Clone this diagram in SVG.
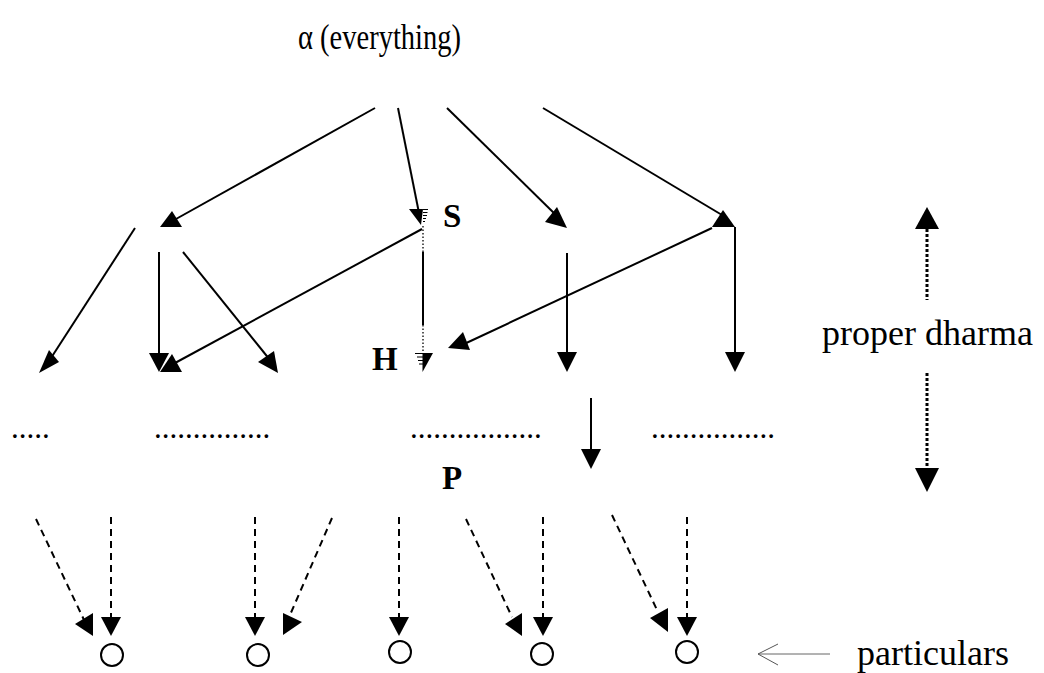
<svg xmlns="http://www.w3.org/2000/svg" width="1044" height="673" viewBox="0 0 1044 673">
<style>
text{font-family:"Liberation Serif","Times New Roman",serif;fill:#000}
.t{font-size:36px}
.b{font-size:33px;font-weight:bold}
.d{font-size:31px}
.ln{stroke:#000;stroke-width:2;fill:none}
.dash{stroke:#000;stroke-width:2;fill:none;stroke-dasharray:7 5}
.dot{stroke:#000;stroke-width:1.3;fill:none;stroke-dasharray:1.5 2}
.pd{stroke:#000;stroke-width:3;fill:none;stroke-dasharray:3 2}
.head{fill:#000;stroke:none}
.tick{stroke:#000;stroke-width:1;fill:none}
.node{fill:#fff;stroke:#000;stroke-width:2}
</style>
<rect width="1044" height="673" fill="#fff"/>
<g id="title"><text x="298" y="49" style="font-size:35px" textLength="163" lengthAdjust="spacingAndGlyphs">α (everything)</text></g>
<g id="node-S"><text class="b" x="443" y="227">S</text></g>
<g id="node-H"><text class="b" x="372" y="370">H</text></g>
<g id="node-P"><text class="b" x="442" y="489">P</text></g>
<g id="dots">
<text class="d" x="11" y="438">.....</text>
<text class="d" x="154" y="438">...............</text>
<text class="d" x="410" y="438">.................</text>
<text class="d" x="651" y="438">................</text>
</g>
<g id="label-dharma"><text class="t" x="822" y="345">proper dharma</text></g>
<g id="label-particulars"><text class="t" x="857" y="665">particulars</text></g>
<g id="particulars">
<circle class="node" cx="112" cy="655" r="11"/>
<circle class="node" cx="258" cy="655" r="11"/>
<circle class="node" cx="400" cy="652" r="11"/>
<circle class="node" cx="542" cy="654" r="11"/>
<circle class="node" cx="687" cy="652" r="11"/>
</g>
<g id="connectors">
<line class="ln" x1="375" y1="108" x2="176" y2="219"/>
<polygon class="head" points="160,227 182,227 172,211"/>
<line class="ln" x1="398" y1="108" x2="420" y2="218"/>
<polygon class="head" points="409,209 423,209 421,225"/>
<path class="tick" d="M423,209.5H428M423,212.5H427.5M423,215.5H427M423,218.5H426M423,221.5H425"/>
<line class="dot" x1="423" y1="226" x2="423" y2="252"/>
<line class="ln" x1="423" y1="252" x2="423" y2="325"/>
<line class="dot" x1="423" y1="325" x2="423" y2="353"/>
<path class="tick" d="M415,353.5H423M417,357H423M418,360.5H423M419,364H423"/>
<polygon class="head" points="422.5,353 433,353 422.5,372"/>
<line class="ln" x1="447" y1="108" x2="559" y2="218"/>
<polygon class="head" points="545,222 557,207 567,228"/>
<line class="ln" x1="543" y1="108" x2="722" y2="215"/>
<polygon class="head" points="712,227 723,210 735,227"/>
<line class="ln" x1="735" y1="227" x2="735" y2="355"/>
<polygon class="head" points="725,352 745,352 735,372"/>
<line class="ln" x1="712" y1="228" x2="462" y2="345"/>
<polygon class="head" points="448,348 470,350 463,332"/>
<line class="ln" x1="567" y1="253" x2="567" y2="355"/>
<polygon class="head" points="557,352 577,352 567,372"/>
<line class="ln" x1="135" y1="228" x2="51" y2="358"/>
<polygon class="head" points="49,350 59,362 39,373"/>
<line class="ln" x1="159" y1="252" x2="159" y2="355"/>
<polygon class="head" points="149,353 169,353 159,372"/>
<line class="ln" x1="183" y1="252" x2="270" y2="360"/>
<polygon class="head" points="258,362 274,351 278,373"/>
<line class="ln" x1="422" y1="229" x2="175" y2="363"/>
<polygon class="head" points="160,372 182,372 172,354"/>
<line class="ln" x1="591" y1="398" x2="591" y2="452"/>
<polygon class="head" points="581,449 601,449 591,469"/>
<line class="dash" x1="36" y1="519" x2="85" y2="622"/>
<polygon class="head" points="75,624 93,613 93,636"/>
<line class="dash" x1="111" y1="517" x2="111" y2="620"/>
<polygon class="head" points="101,617 121,617 111,636"/>
<line class="dash" x1="255" y1="517" x2="255" y2="620"/>
<polygon class="head" points="245,617 265,617 255,636"/>
<line class="dash" x1="332" y1="518" x2="290" y2="615"/>
<polygon class="head" points="283,613 302,622 283,635"/>
<line class="dash" x1="399" y1="517" x2="399" y2="620"/>
<polygon class="head" points="389,617 409,617 399,636"/>
<line class="dash" x1="466" y1="519" x2="512" y2="617"/>
<polygon class="head" points="505,624 522,613 522,636"/>
<line class="dash" x1="543" y1="517" x2="543" y2="620"/>
<polygon class="head" points="533,617 553,617 543,636"/>
<line class="dash" x1="612" y1="515" x2="658" y2="612"/>
<polygon class="head" points="650,618 668,608 668,632"/>
<line class="dash" x1="687" y1="517" x2="687" y2="620"/>
<polygon class="head" points="677,617 697,617 687,636"/>
<line class="pd" x1="927" y1="229" x2="927" y2="300"/>
<polygon class="head" points="915,229 939,229 927,207"/>
<line class="pd" x1="927" y1="373" x2="927" y2="468"/>
<polygon class="head" points="915,468 939,468 927,492"/>
<line x1="758" y1="654" x2="830" y2="654" stroke="#666" stroke-width="1"/>
<path d="M778,644L758,654L778,665" stroke="#555" stroke-width="1" fill="none"/>
</g>
</svg>
